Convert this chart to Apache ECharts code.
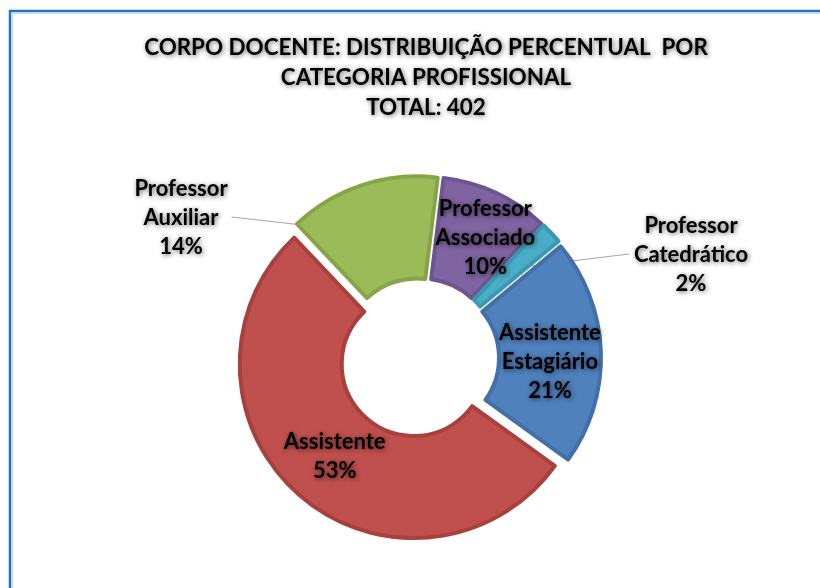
<!DOCTYPE html>
<html>
<head>
<meta charset="utf-8">
<script src="https://cdn.jsdelivr.net/npm/echarts@6/dist/echarts.min.js"></script>
<style>
html,body{margin:0;padding:0;background:#fff;}
#chart{width:820px;height:588px;}
</style>
</head>
<body>
<div id="chart"></div>
<script>
// ---- data ----
const titleLines = ['CORPO DOCENTE: DISTRIBUIÇÃO PERCENTUAL  POR', 'CATEGORIA PROFISSIONAL', 'TOTAL: 402'];
const categories = ['Professor Associado', 'Professor Catedrático', 'Assistente Estagiário', 'Assistente', 'Professor Auxiliar'];
const values = [10, 2, 21, 53, 14];
const fillColors = ['#8064A2', '#4BACC6', '#4F81BD', '#C0504D', '#9BBB59'];
const rimColors = ['#6E5590', '#3C98B2', '#4370A8', '#A8413E', '#87A548'];
const outsideLabels = ['Professor Auxiliar', 'Professor Catedrático'];

// ---- layout constants ----
const CX = 419, CY = 358;
const R0 = 72, R1 = 174;
const START = 83;       // echarts startAngle (90 = 12 o'clock)
const OFFSET = 8;
const FONT = 'Lato, "Open Sans", sans-serif';
// small label nudges (px) for inside labels, by data index
const labelNudge = [[11, -1], [0, 0], [0, 8], [2, 0], [0, 0]];
// anchors for the two outside labels
const outsidePos = {
  'Professor Auxiliar': [181, 218],
  'Professor Catedrático': [691, 255]
};

const total = values.reduce((a, b) => a + b, 0);
function midInfo(idx) {
  let acc = 0;
  for (let i = 0; i < idx; i++) acc += values[i];
  const a0 = (90 - START) + acc / total * 360;
  const a1 = a0 + values[idx] / total * 360;
  const th = (a0 + a1) / 2 * Math.PI / 180; // clockwise from top
  const rm = (R0 + R1) / 2;
  return [CX + (OFFSET + rm) * Math.sin(th), CY - (OFFSET + rm) * Math.cos(th)];
}

const textShadow = {
  textShadowColor: 'rgba(0,0,0,0.6)',
  textShadowBlur: 5,
  textShadowOffsetX: 1,
  textShadowOffsetY: 1
};

const sliceData = categories.map((name, i) => ({
  name: name,
  value: values[i],
  selected: true,
  itemStyle: { color: fillColors[i], borderColor: rimColors[i], borderWidth: 4 }
}));

const labelData = categories.map((name, i) => {
  const outside = outsideLabels.indexOf(name) >= 0;
  return {
    name: name,
    value: values[i],
    label: { position: outside ? 'outside' : 'inside' },
    labelLine: { show: outside }
  };
});

const chart = echarts.init(document.getElementById('chart'), null, { renderer: 'canvas' });
chart.setOption({
  backgroundColor: '#ffffff',
  animation: false,
  title: {
    text: titleLines.join('\n'),
    left: 421,
    top: 28,
    textAlign: 'center',
    textStyle: Object.assign({
      fontFamily: FONT,
      fontWeight: 'bold',
      fontSize: 22.4,
      lineHeight: 30,
      color: '#000'
    }, textShadow)
  },
  graphic: [
    { type: 'rect', shape: { x: 12.5, y: 13.5, width: 900, height: 700 }, style: { fill: 'none', stroke: '#d4d4d4', lineWidth: 1 }, silent: true },
    { type: 'rect', shape: { x: 10, y: 11, width: 900, height: 700 }, style: { fill: 'none', stroke: '#1874CD', lineWidth: 2.5 }, silent: true }
  ],
  series: [{
    type: 'pie',
    center: [CX, CY],
    radius: [R0, R1],
    startAngle: START,
    clockwise: true,
    selectedMode: 'multiple',
    selectedOffset: OFFSET,
    emphasis: { disabled: true },
    label: { show: false },
    labelLine: { show: false },
    data: sliceData
  }, {
    type: 'pie',
    center: [CX, CY],
    radius: [R0, R1],
    startAngle: START,
    clockwise: true,
    selectedMode: false,
    silent: true,
    avoidLabelOverlap: false,
    emphasis: { disabled: true },
    itemStyle: { color: 'rgba(0,0,0,0)', borderWidth: 0 },
    label: Object.assign({
      show: true,
      position: 'outside',
      fontFamily: FONT,
      fontWeight: 'bold',
      fontSize: 22,
      lineHeight: 29,
      color: '#000',
      align: 'center',
      formatter: p => p.name.replace(' ', '\n') + '\n' + p.value + '%'
    }, textShadow),
    labelLine: { show: true, lineStyle: { color: '#A6A6A6', width: 1 } },
    labelLayout: function (params) {
      const i = params.dataIndex;
      const name = categories[i];
      const mid = midInfo(i);
      if (!outsidePos[name]) {
        return {
          x: mid[0] + labelNudge[i][0], y: mid[1] + labelNudge[i][1],
          align: 'center', verticalAlign: 'middle'
        };
      }
      const pos = outsidePos[name];
      const w = params.labelRect.width;
      const endX = mid[0] < pos[0] ? pos[0] - w / 2 - 5 : pos[0] + w / 2 + 4;
      const endY = pos[1] - 1;
      return {
        x: pos[0], y: pos[1], align: 'center', verticalAlign: 'middle',
        labelLinePoints: [mid, [endX, endY]]
      };
    },
    data: labelData
  }]
});
</script>
</body>
</html>
